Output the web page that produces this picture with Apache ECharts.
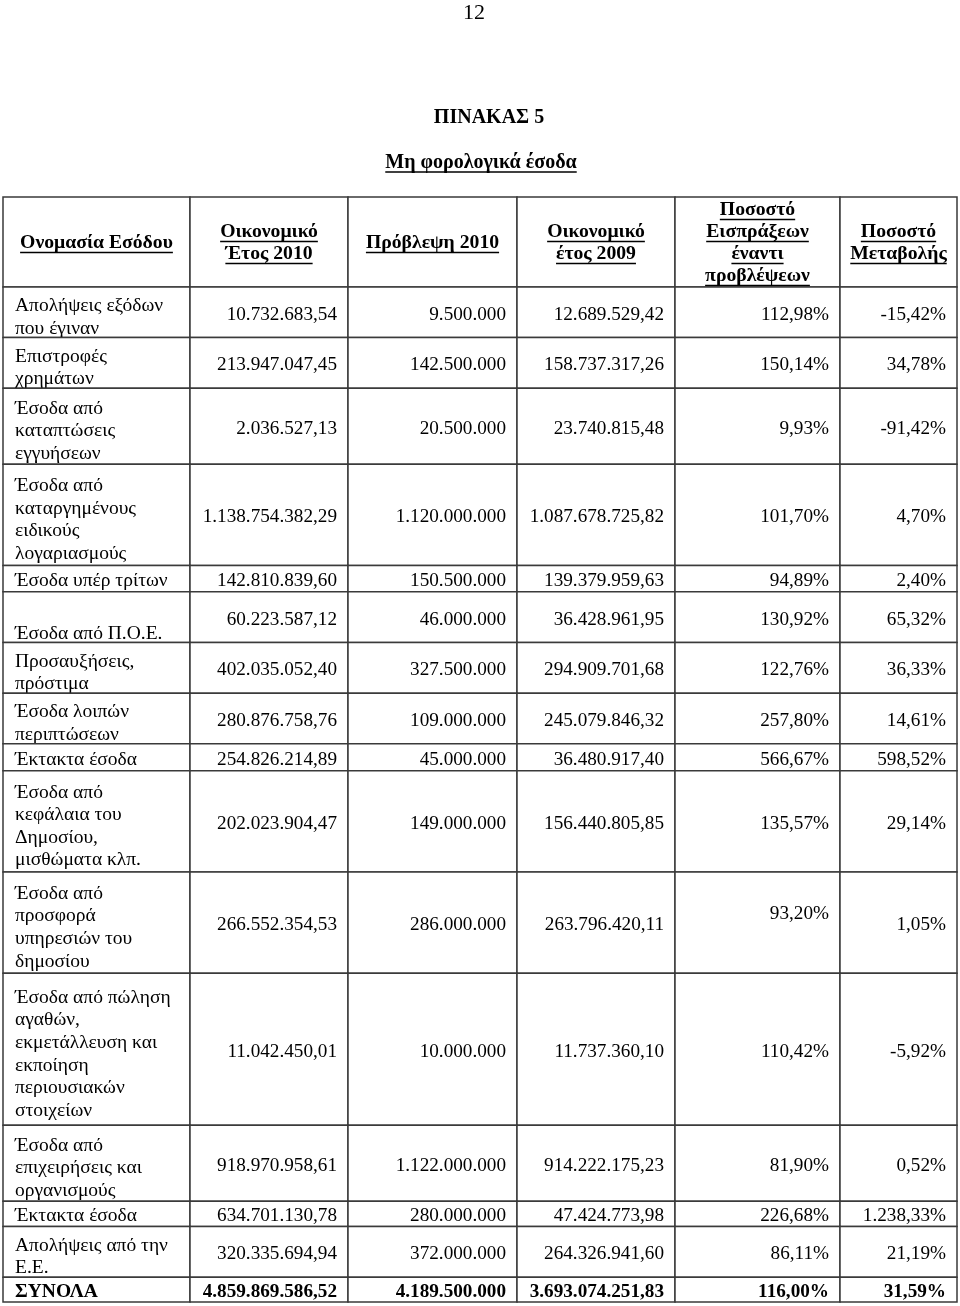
<!DOCTYPE html>
<html><head><meta charset="utf-8">
<script src="https://cdn.jsdelivr.net/npm/echarts@6/dist/echarts.min.js"></script>
<style>html,body{margin:0;padding:0;background:#fff}#chart{width:960px;height:1306px}</style>
</head><body><div id="chart"></div>
<script>
// ---------------- DATA ----------------
const pageNumber = '12';
const tableTitle = 'ΠΙΝΑΚΑΣ 5';
const tableSubtitle = 'Μη φορολογικά έσοδα';
const columnHeaders = [
  'Ονομασία Εσόδου',
  'Οικονομικό\nΈτος 2010',
  'Πρόβλεψη 2010',
  'Οικονομικό\nέτος 2009',
  'Ποσοστό\nΕισπράξεων\nέναντι\nπροβλέψεων',
  'Ποσοστό\nΜεταβολής'
];
const revenueNames = [
  'Απολήψεις εξόδων\nπου έγιναν',
  'Επιστροφές\nχρημάτων',
  'Έσοδα από\nκαταπτώσεις\nεγγυήσεων',
  'Έσοδα από\nκαταργημένους\nειδικούς\nλογαριασμούς',
  'Έσοδα υπέρ τρίτων',
  'Έσοδα από Π.Ο.Ε.',
  'Προσαυξήσεις,\nπρόστιμα',
  'Έσοδα λοιπών\nπεριπτώσεων',
  'Έκτακτα έσοδα',
  'Έσοδα από\nκεφάλαια του\nΔημοσίου,\nμισθώματα κλπ.',
  'Έσοδα από\nπροσφορά\nυπηρεσιών του\nδημοσίου',
  'Έσοδα από πώληση\nαγαθών,\nεκμετάλλευση και\nεκποίηση\nπεριουσιακών\nστοιχείων',
  'Έσοδα από\nεπιχειρήσεις και\nοργανισμούς',
  'Έκτακτα έσοδα',
  'Απολήψεις από την\nΕ.Ε.',
  'ΣΥΝΟΛΑ'
];
const actual2010 = [10732683.54, 213947047.45, 2036527.13, 1138754382.29, 142810839.60, 60223587.12, 402035052.40, 280876758.76, 254826214.89, 202023904.47, 266552354.53, 11042450.01, 918970958.61, 634701130.78, 320335694.94, 4859869586.52];
const forecast2010 = [9500000, 142500000, 20500000, 1120000000, 150500000, 46000000, 327500000, 109000000, 45000000, 149000000, 286000000, 10000000, 1122000000, 280000000, 372000000, 4189500000];
const actual2009 = [12689529.42, 158737317.26, 23740815.48, 1087678725.82, 139379959.63, 36428961.95, 294909701.68, 245079846.32, 36480917.40, 156440805.85, 263796420.11, 11737360.10, 914222175.23, 47424773.98, 264326941.60, 3693074251.83];
const collectionPct = [112.98, 150.14, 9.93, 101.70, 94.89, 130.92, 122.76, 257.80, 566.67, 135.57, 93.20, 110.42, 81.90, 226.68, 86.11, 116.00];
const changePct = [-15.42, 34.78, -91.42, 4.70, 2.40, 65.32, 36.33, 14.61, 598.52, 29.14, 1.05, -5.92, 0.52, 1238.33, 21.19, 31.59];

// ---------------- LAYOUT ----------------
const FONT = '"Liberation Serif", "Times New Roman", serif';
const colWidths = [187, 158, 169, 158, 165, 117];
const headerUnits = 3.55;
const rowUnits = [2, 2, 3, 4, 1.04, 2, 2, 2, 1.06, 4, 4, 6, 3, 1, 2, 0.98];
const labelShiftLines = {5: 0.5};
const cellShiftLines = {'10-4': -0.5};
const boldRows = {15: true};
const LABEL_SIZE = 19.5, NUM_SIZE = 19.2, BODY_LH = 22.6, HEAD_SIZE = 19.7, HEAD_LH = 22;
const LABEL_DY = 5, NUM_DY = 2.5;

const colEdges = [0];
colWidths.forEach(w => colEdges.push(colEdges[colEdges.length - 1] + w));
const rowEdges = [0, headerUnits];
rowUnits.forEach(u => rowEdges.push(rowEdges[rowEdges.length - 1] + u));

const mctx = document.createElement('canvas').getContext('2d');
function measure(text, font) { mctx.font = font; return mctx.measureText(text).width; }

function fmt(v, dec) {
  const neg = v < 0;
  const s = Math.abs(v).toFixed(dec);
  let parts = s.split('.');
  let i = parts[0].replace(/\B(?=(\d{3})+(?!\d))/g, '.');
  return (neg ? '-' : '') + i + (parts[1] ? ',' + parts[1] : '');
}
function cellText(c, r) {
  if (r === 0) return columnHeaders[c];
  const i = r - 1;
  switch (c) {
    case 0: return revenueNames[i];
    case 1: return fmt(actual2010[i], 2);
    case 2: return fmt(forecast2010[i], 0);
    case 3: return fmt(actual2009[i], 2);
    case 4: return fmt(collectionPct[i], 2) + '%';
    default: return fmt(changePct[i], 2) + '%';
  }
}

const cells = [];
for (let r = 0; r < rowEdges.length - 1; r++)
  for (let c = 0; c < colWidths.length; c++) cells.push([c, r]);

function renderItem(params, api) {
  const c = api.value(0), r = api.value(1);
  const x0 = api.coord([colEdges[c], 0])[0];
  const x1 = api.coord([colEdges[c + 1], 0])[0];
  const y0 = api.coord([0, rowEdges[r]])[1];
  const y1 = api.coord([0, rowEdges[r + 1]])[1];
  const children = [{
    type: 'rect', shape: {x: x0, y: y0, width: x1 - x0, height: y1 - y0},
    style: {fill: '#fff', stroke: '#3a3a3a', lineWidth: 1.5}
  }];
  const text = cellText(c, r);
  const cy = (y0 + y1) / 2;
  if (r === 0) {
    const cx = (x0 + x1) / 2;
    const font = 'bold ' + HEAD_SIZE + 'px ' + FONT;
    const ty = cy + 1;
    children.push({type: 'text', style: {text: text, x: cx, y: ty, align: 'center', verticalAlign: 'middle', font: font, lineHeight: HEAD_LH, fill: '#000'}});
    const lines = text.split('\n');
    lines.forEach((ln, k) => {
      const yc = ty + (k - (lines.length - 1) / 2) * HEAD_LH + 9.5;
      const w = measure(ln, font);
      children.push({type: 'line', shape: {x1: cx - w / 2, y1: yc, x2: cx + w / 2, y2: yc}, style: {stroke: '#000', lineWidth: 1.6}});
    });
  } else {
    const bold = boldRows[r - 1];
    if (c === 0) {
      const font = (bold ? 'bold ' : '') + LABEL_SIZE + 'px ' + FONT;
      const single = text.indexOf('\n') < 0 && !labelShiftLines[r - 1];
      const sh = (labelShiftLines[r - 1] || 0) * BODY_LH + (single ? NUM_DY : LABEL_DY);
      children.push({type: 'text', style: {text: text, x: x0 + 12, y: cy + sh, align: 'left', verticalAlign: 'middle', font: font, lineHeight: BODY_LH, fill: '#000'}});
    } else {
      const font = (bold ? 'bold ' : '') + NUM_SIZE + 'px ' + FONT;
      const sh = (cellShiftLines[(r - 1) + '-' + c] || 0) * BODY_LH + NUM_DY;
      children.push({type: 'text', style: {text: text, x: x1 - 11, y: cy + sh, align: 'right', verticalAlign: 'middle', font: font, lineHeight: BODY_LH, fill: '#000'}});
    }
  }
  return {type: 'group', children: children};
}

const subFont = 'bold 20px ' + FONT;
const subW = measure(tableSubtitle, subFont);

const chart = echarts.init(document.getElementById('chart'), null, {renderer: 'canvas'});
chart.setOption({
  backgroundColor: '#fff',
  animation: false,
  grid: {left: 3, right: 3, top: 197, bottom: 4},
  xAxis: {type: 'value', min: 0, max: colEdges[colEdges.length - 1], show: false},
  yAxis: {type: 'value', min: 0, max: rowEdges[rowEdges.length - 1], inverse: true, show: false},
  graphic: [
    {type: 'text', x: 474, y: 13, style: {text: pageNumber, font: '22px ' + FONT, align: 'center', verticalAlign: 'middle', fill: '#000'}},
    {type: 'text', x: 489, y: 118, style: {text: tableTitle, font: 'bold 20px ' + FONT, align: 'center', verticalAlign: 'middle', fill: '#000'}},
    {type: 'text', x: 481, y: 163, style: {text: tableSubtitle, font: subFont, align: 'center', verticalAlign: 'middle', fill: '#000'}},
    {type: 'line', shape: {x1: 481 - subW / 2, y1: 172, x2: 481 + subW / 2, y2: 172}, style: {stroke: '#000', lineWidth: 1.5}}
  ],
  series: [{
    type: 'custom',
    coordinateSystem: 'cartesian2d',
    renderItem: renderItem,
    clip: false,
    data: cells,
    silent: true
  }]
});
</script></body></html>
